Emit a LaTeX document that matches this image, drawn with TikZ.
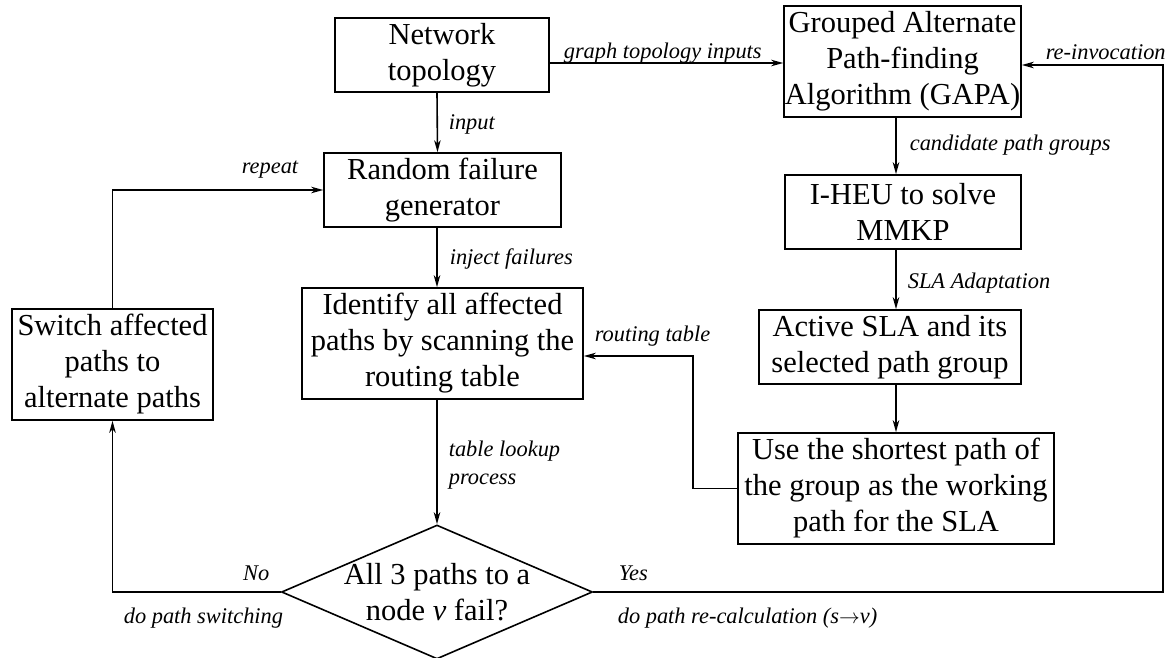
\documentclass[tikz,border=0pt]{standalone}
\usepackage{fontspec}
\setmainfont{Liberation Serif}
\usetikzlibrary{shapes.geometric,arrows.meta}

\begin{document}
\begin{tikzpicture}[x=1pt,y=-1pt,line width=1.6pt,
  box/.style={draw, inner sep=0pt, align=center, font=\fontsize{30.5}{36}\selectfont},
  lbl/.style={font=\fontsize{22.4}{26}\selectfont\itshape, inner sep=0pt},
  arr/.style={-{Stealth[length=12pt,width=6.5pt,inset=3.5pt]}},
]
\useasboundingbox (0,0) rectangle (1173,658);
\fill[white] (0,0) rectangle (1173,658);

% process boxes
\node[box, minimum width=214pt, minimum height=74pt]  (net)    at (442,55)    {Network\\topology};
\node[box, minimum width=237pt, minimum height=74pt]  (rand)   at (442.5,190) {Random failure\\generator};
\node[box, minimum width=281pt, minimum height=111pt] (ident)  at (442.5,343.5) {Identify all affected\\paths by scanning the\\routing table};
\node[box, minimum width=201pt, minimum height=111pt] (switch) at (112.5,364.5) {Switch affected\\paths to\\alternate paths};
\node[box, minimum width=237pt, minimum height=111pt] (gapa)   at (902.5,61.5) {Grouped Alternate\\Path-finding\\Algorithm (GAPA)};
\node[box, minimum width=236pt, minimum height=74pt]  (iheu)   at (903,212)   {I-HEU to solve\\MMKP};
\node[box, minimum width=262pt, minimum height=74pt]  (active) at (890,347)   {Active SLA and its\\selected path group};
\node[box, minimum width=316pt, minimum height=111pt] (use)    at (896,488.5) {Use the shortest path of\\the group as the working\\path for the SLA};

% decision
\node[box, diamond, aspect=2.32, inner xsep=-40pt, inner ysep=-10pt,
      minimum width=311pt, minimum height=134pt] (dec) at (437,592)
      {All 3 paths to a\\node \textit{v} fail?};

\coordinate (rc) at (1163,65);

% connectors
\draw[arr] ([xshift=-5pt]net.south) -- ([xshift=-5pt]rand.north);
\draw[arr] ([yshift=-8pt]net.east) -- ([yshift=-8pt]net.east -| gapa.west);
\draw[arr] ([xshift=-5.5pt]rand.south) -- ([xshift=-5.5pt]ident.north);
\draw[arr] (ident.south -| dec.north) -- (dec.north);
\draw[arr] ([xshift=-6.5pt]gapa.south) -- ([xshift=-6.5pt]gapa.south |- iheu.north);
\draw[arr] ([xshift=-7pt]iheu.south) -- ([xshift=-7pt]iheu.south |- active.north);
\draw[arr] (active.south -| use.north) -- (use.north);
\draw[arr] (use.west) -- ++(-44,0) |- ([yshift=-12.5pt]ident.east);
\draw[arr] (dec.west) -| (switch.south);
\draw[arr] (switch.north) |- (rand.west);
\draw[arr] (dec.east) -| (rc) -- (rc -| gapa.east);

% connector labels
\node[lbl, anchor=base west] (l1)  at (563,59)  {graph topology inputs};
\node[lbl, anchor=base west] (l2)  at (1045,60) {re-invocation};
\node[lbl, anchor=base west] (l3)  at (448,130) {input};
\node[lbl, anchor=base west] (l4)  at (241,174) {repeat};
\node[lbl, anchor=base west] (l5)  at (449,264) {inject failures};
\node[lbl, anchor=base west] (l6)  at (909,150) {candidate path groups};
\node[lbl, anchor=base west] (l7)  at (907,288) {SLA Adaptation};
\node[lbl, anchor=base west] (l8)  at (594,341) {routing table};
\node[lbl, anchor=base west] (l9)  at (448,456) {table lookup};
\node[lbl, anchor=base west] (l10) at (448,484) {process};
\node[lbl, anchor=base east] (l11) at (270,580) {No};
\node[lbl, anchor=base west] (l12) at (123,623) {do path switching};
\node[lbl, anchor=base west] (l13) at (618,580) {Yes};
\node[lbl, anchor=base west] (l14) at (617,623) {do path re-calculation (s$\rightarrow$v)};
\end{tikzpicture}
\end{document}
